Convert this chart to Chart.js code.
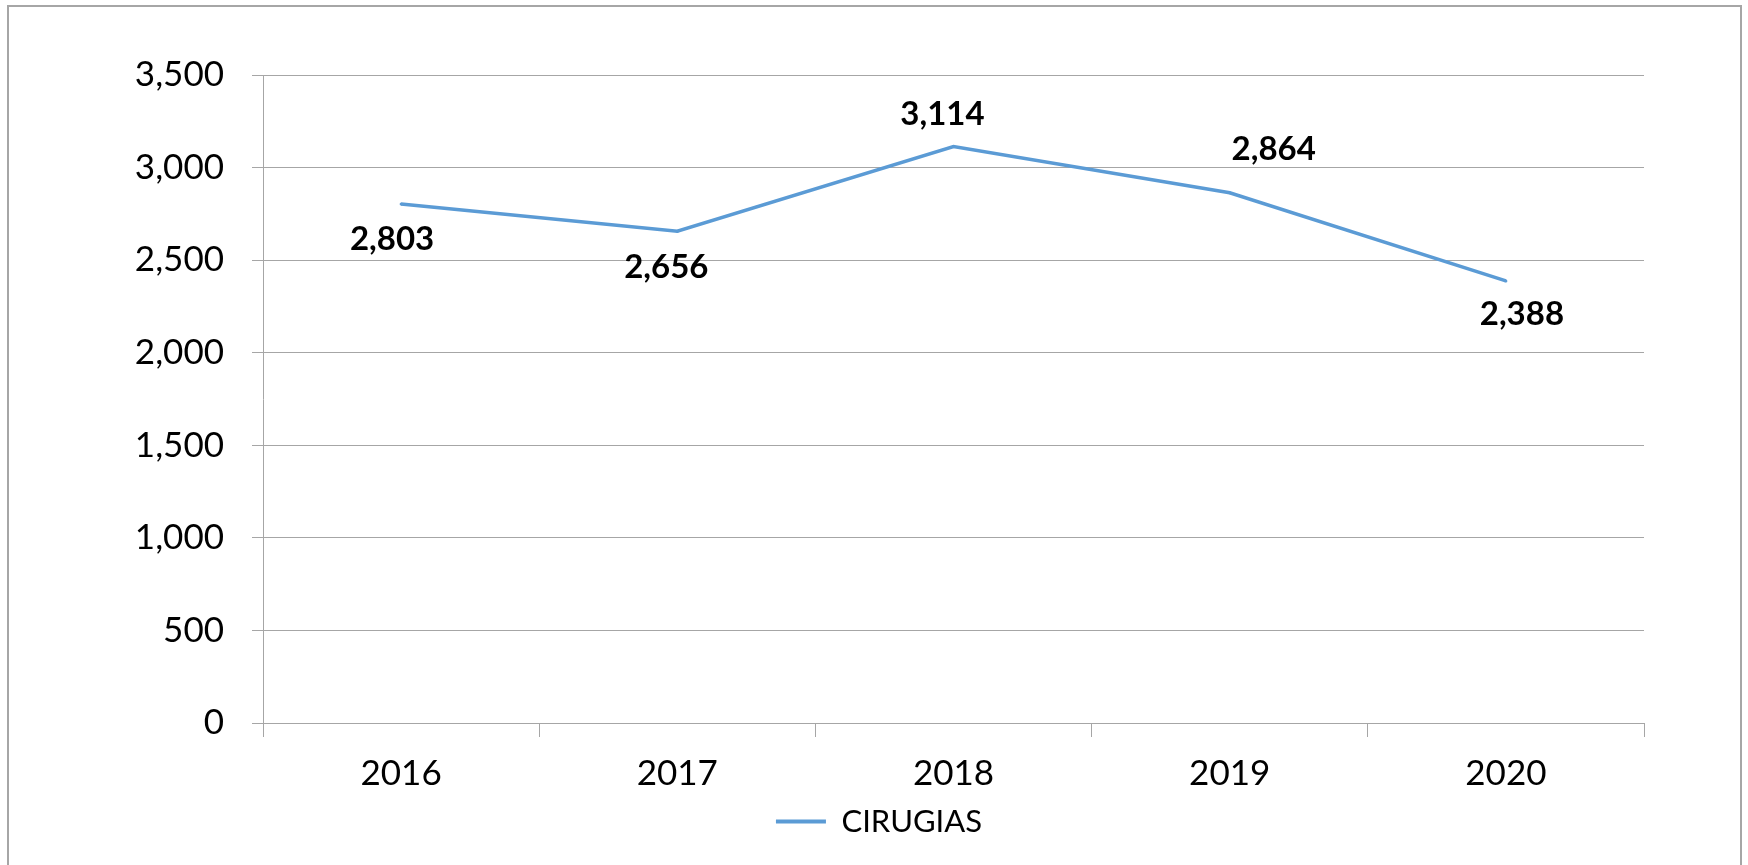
<!DOCTYPE html>
<html>
<head>
<meta charset="utf-8">
<script src="https://cdn.jsdelivr.net/npm/chart.js@4.4.1/dist/chart.umd.min.js"></script>
<style>
  html, body { margin: 0; padding: 0; background: #ffffff; }
  #wrap { width: 1748px; height: 865px; }
</style>
</head>
<body>
<div id="wrap"><canvas id="c" width="1748" height="865"></canvas></div>
<script>
// ---- data ----
const categories = ['2016', '2017', '2018', '2019', '2020'];
const cirugias = [2803, 2656, 3114, 2864, 2388];
const seriesName = 'CIRUGIAS';
const yMin = 0;
const yMax = 3500;
const yStep = 500;

const fmt = v => v.toLocaleString('en-US');

const frame = {
  id: 'frame',
  beforeDraw(chart) {
    const ctx = chart.ctx;
    ctx.save();
    ctx.fillStyle = '#ffffff';
    ctx.fillRect(0, 0, chart.width, chart.height);
    ctx.strokeStyle = '#a6a6a6';
    ctx.lineWidth = 2;
    ctx.strokeRect(8, 6, 1733, 900);
    ctx.restore();
  }
};

const pointLabels = {
  id: 'pointLabels',
  afterDatasetsDraw(chart, args, opts) {
    const ctx = chart.ctx;
    const meta = chart.getDatasetMeta(0);
    const ds = chart.data.datasets[0];
    ctx.save();
    ctx.font = opts.font;
    ctx.fillStyle = opts.color;
    ctx.textAlign = 'center';
    ctx.textBaseline = 'middle';
    meta.data.forEach((pt, i) => {
      const off = opts.offsets[i];
      ctx.fillText(fmt(ds.data[i]), pt.x + off[0], pt.y + off[1]);
    });
    ctx.restore();
  }
};

const gridColor = '#a6a6a6';

new Chart(document.getElementById('c'), {
  type: 'line',
  data: {
    labels: categories,
    datasets: [{
      label: seriesName,
      data: cirugias,
      borderColor: '#5b9bd5',
      backgroundColor: '#5b9bd5',
      borderWidth: 3.5,
      pointRadius: 1.5,
      pointBorderWidth: 0,
      pointBackgroundColor: '#5b9bd5',
      tension: 0
    }]
  },
  options: {
    responsive: false,
    animation: false,
    layout: { padding: { top: 75, left: 10, right: 0, bottom: 18 } },
    plugins: {
      legend: {
        position: 'bottom',
        labels: {
          font: { family: 'Lato', size: 31 },
          color: '#000000',
          boxWidth: 50,
          boxHeight: 4,
          padding: 10,
          generateLabels(chart) {
            const items = Chart.defaults.plugins.legend.labels.generateLabels(chart);
            items.forEach(it => { it.lineWidth = 0; it.fillStyle = '#5b9bd5'; });
            return items;
          }
        }
      },
      tooltip: { enabled: false },
      pointLabels: {
        font: 'bold 33px Lato',
        color: '#000000',
        offsets: [[-9, 35], [-11, 36], [-11, -32], [44, -43], [16, 33]]
      }
    },
    scales: {
      x: {
        type: 'category',
        offset: true,
        grid: {
          offset: true,
          drawOnChartArea: false,
          color: gridColor,
          tickLength: 14,
          lineWidth: 1
        },
        border: { color: gridColor, width: 1 },
        ticks: {
          font: { family: 'Lato', size: 35 },
          color: '#000000',
          padding: 16,
          maxRotation: 0
        },
        afterFit(scale) { scale.height = 73; }
      },
      y: {
        min: yMin,
        max: yMax,
        grid: {
          color: gridColor,
          tickLength: 11,
          lineWidth: 1
        },
        border: { color: gridColor, width: 1 },
        ticks: {
          stepSize: yStep,
          font: { family: 'Lato', size: 35 },
          color: '#000000',
          padding: 28,
          callback: v => fmt(v)
        },
        afterFit(scale) { scale.width = 253; }
      },
      yr: {
        position: 'right',
        display: true,
        grid: { display: false, drawTicks: false },
        border: { display: false },
        ticks: { display: false },
        afterFit(scale) { scale.width = 104; }
      }
    }
  },
  plugins: [frame, pointLabels]
});
</script>
</body>
</html>
